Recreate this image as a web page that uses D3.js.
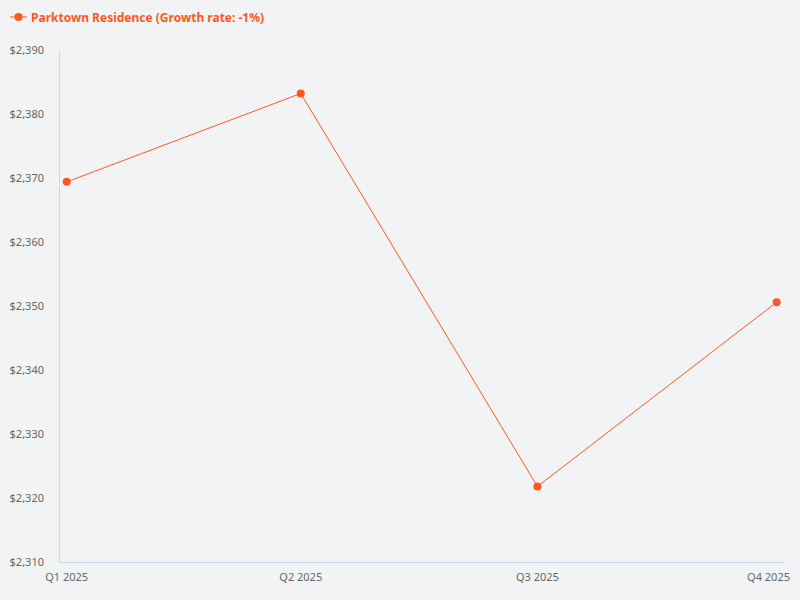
<!DOCTYPE html>
<html>
<head>
<meta charset="utf-8">
<script src="https://cdn.jsdelivr.net/npm/d3@7"></script>
<style>
  body { margin: 0; background: #f2f3f5; }
  svg { display: block; font-family: "Noto Sans", "Open Sans", sans-serif; }
</style>
</head>
<body>
<div id="chart"></div>
<script>
// quarterly values
var quarters = ["Q1 2025", "Q2 2025", "Q3 2025", "Q4 2025"];
var quarterStarts = ["2025-01-01", "2025-04-01", "2025-07-01", "2025-10-01"];
var prices = [2369.4, 2383.2, 2321.8, 2350.6];
var yTicks = [2310, 2320, 2330, 2340, 2350, 2360, 2370, 2380, 2390];
var seriesName = "Parktown Residence (Growth rate: -1%)";

(function () {
  var W = 800, H = 600, color = "#ff5722";
  var svg = d3.select("#chart").append("svg")
    .attr("width", W).attr("height", H);
  svg.append("rect").attr("width", W).attr("height", H).attr("fill", "#f2f3f5");

  var left = 59.5, right = 785, top = 50, bottom = 562;
  // x is a time axis: quarters are not equally wide (90/91/92 days)
  var dates = quarterStarts.map(function (s) { return new Date(s + "T00:00:00Z"); });
  var x = d3.scaleUtc().domain([dates[0], dates[dates.length - 1]]).range([66.7, 776.7]);
  var y = d3.scaleLinear().domain([2310, 2390]).range([bottom, top]);

  // axis lines
  svg.append("line").attr("x1", left).attr("x2", left)
    .attr("y1", top).attr("y2", bottom)
    .attr("stroke", "#ccd6eb").attr("stroke-width", 1);
  svg.append("line").attr("x1", left).attr("x2", right)
    .attr("y1", bottom + 0.5).attr("y2", bottom + 0.5)
    .attr("stroke", "#ccd6eb").attr("stroke-width", 1);

  var fmt = d3.format(",");
  svg.append("g").selectAll("text").data(yTicks).join("text")
    .attr("x", 44).attr("y", function (d) { return y(d) + 4; })
    .attr("text-anchor", "end").attr("font-size", 11).attr("fill", "#666")
    .text(function (d) { return "$" + fmt(d); });

  var last = quarters.length - 1;
  svg.append("g").selectAll("text").data(quarters).join("text")
    .attr("x", function (d, i) { return i === last ? 790 : x(dates[i]); })
    .attr("y", 581)
    .attr("text-anchor", function (d, i) { return i === last ? "end" : "middle"; })
    .attr("font-size", 11).attr("fill", "#666")
    .text(function (d) { return d; });

  var pts = dates.map(function (dt, i) { return [x(dt), y(prices[i])]; });
  svg.append("path").attr("d", d3.line()(pts))
    .attr("fill", "none").attr("stroke", color).attr("stroke-width", 1);
  svg.append("g").selectAll("circle").data(pts).join("circle")
    .attr("cx", function (d) { return d[0]; })
    .attr("cy", function (d) { return d[1]; })
    .attr("r", 4).attr("fill", color);

  // legend
  var lg = svg.append("g");
  lg.append("line").attr("x1", 10).attr("x2", 27).attr("y1", 17).attr("y2", 17)
    .attr("stroke", color).attr("stroke-width", 1);
  lg.append("circle").attr("cx", 18.5).attr("cy", 17).attr("r", 4).attr("fill", color);
  lg.append("text").attr("x", 31).attr("y", 21.5)
    .attr("font-size", 12).attr("font-weight", "bold").attr("fill", color)
    .text(seriesName);
})();
</script>
</body>
</html>
